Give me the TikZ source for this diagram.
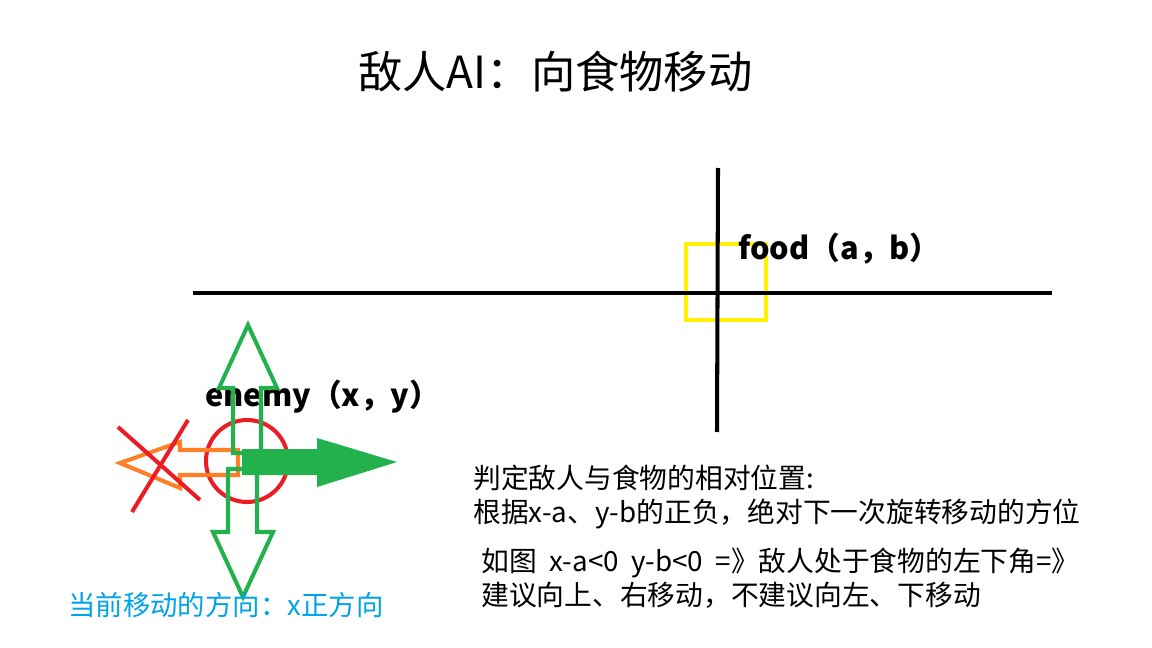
\documentclass[tikz,border=0pt]{standalone}
\usepackage{fontspec}
\newfontfamily\cjk{Noto Sans CJK SC}
\usetikzlibrary{calc}

\begin{document}
\begin{tikzpicture}[x=0.02cm,y=-0.02cm]
  \tikzset{
    axis/.style={line width=2.3pt,black},
    outline/.style={line width=2.3pt,join=miter},
    txt/.style={font=\cjk\fontsize{15.8}{19.3}\selectfont,anchor=west,inner sep=0pt,align=left},
    tag/.style={font=\cjk\bfseries\fontsize{17.5}{20}\selectfont,anchor=west,inner sep=0pt}
  }
  \definecolor{paintgreen}{RGB}{34,177,76}
  \definecolor{paintred}{RGB}{237,28,36}
  \definecolor{paintorange}{RGB}{255,127,39}
  \definecolor{paintyellow}{RGB}{255,242,0}
  \definecolor{paintblue}{RGB}{0,162,232}
  \useasboundingbox (0,0) rectangle (1152,648);

  % Title
  \node[font=\cjk\fontsize{25.2}{30}\selectfont,anchor=west,inner sep=0pt] (title) at (358,72) {敌人AI：向食物移动};

  % Food at the origin of the axes
  \draw[line width=2.6pt,paintyellow] (686,244) rectangle (766,320);
  \draw[axis] (193,293) -- (1052,293);
  \draw[axis] (718,168) -- (717,432);
  \node[tag] (food) at (738,249) {food（a，b）};

  % Enemy and its four directions
  \node[tag] (enemy) at (205,397) {enemy（x，y）};
  \draw[line width=2.3pt,paintred] (247,461) circle (41);
  \draw[outline,paintorange] (238,450) -- (180,450) -- (180,442) -- (120,463)
    -- (180,488) -- (180,475) -- (238,475) -- cycle;
  \draw[outline,paintgreen] (233,453) -- (233,388) -- (219,388) -- (248,325)
    -- (277,388) -- (261,388) -- (261,453) -- cycle;
  \draw[outline,paintgreen] (228,469) -- (257,469) -- (257,532) -- (273,532)
    -- (243,597) -- (213,532) -- (228,532) -- cycle;
  \fill[paintgreen] (242,449) -- (317,449) -- (317,438) -- (397,462)
    -- (317,487) -- (317,475) -- (242,475) -- cycle;

  % Left is crossed out
  \draw[line width=2.3pt,paintred] (118,427) -- (200,500);
  \draw[line width=2.3pt,paintred] (188,420) -- (132,512);

  % Notes
  \node[txt,text=paintblue,font=\cjk\fontsize{15.6}{19.3}\selectfont] (current) at (68,605) {当前移动的方向：x正方向};
  \node[txt] (judge) at (473,497) {判定敌人与食物的相对位置:\\根据x-a、y-b的正负，绝对下一次旋转移动的方位};
  \node[txt] (advice) at (481,578) {如图\ \ x-a<0\ \ y-b<0\ \ =》敌人处于食物的左下角=》\\建议向上、右移动，不建议向左、下移动};
\end{tikzpicture}
\end{document}
